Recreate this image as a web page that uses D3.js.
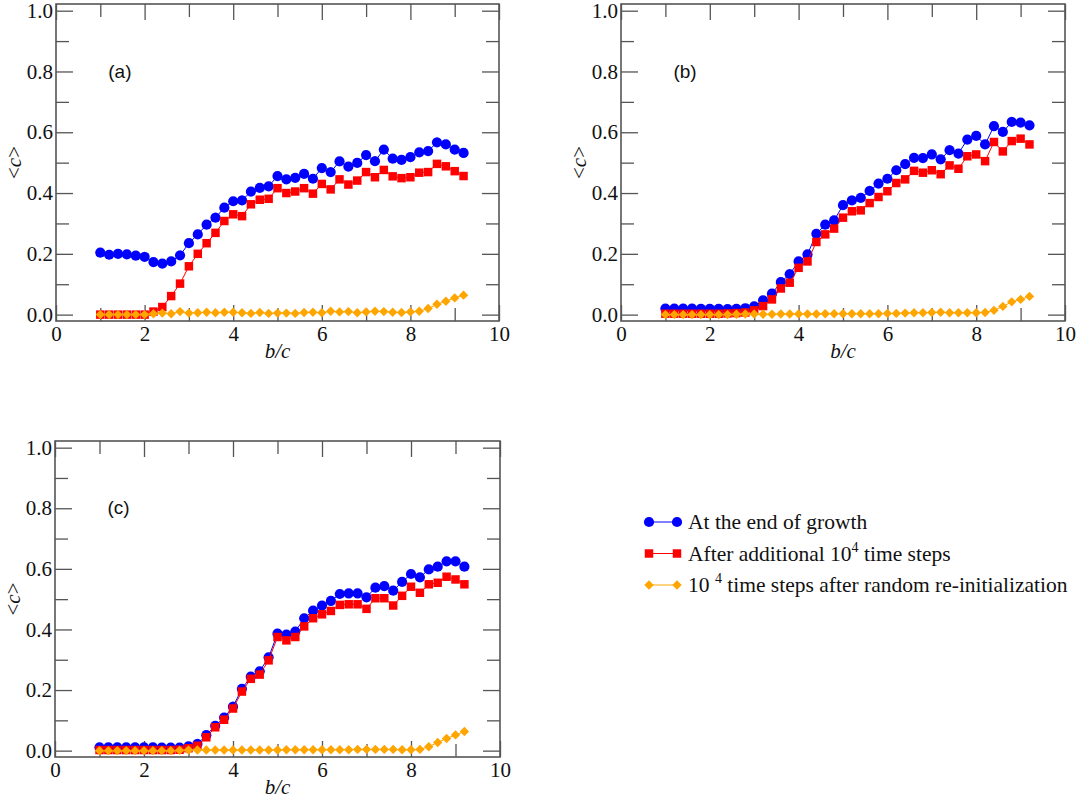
<!DOCTYPE html>
<html lang="en">
<head>
<meta charset="UTF-8">
<title>&lt;c&gt; versus b/c</title>
<style>
    body { margin: 0; background: #fff; }
    .axis path { display: none; }
    .axis line { stroke: #555; stroke-width: 1.3; }
    .frame { fill: none; stroke: #555; stroke-width: 1.6; }
</style>
</head>
<body>
<div id="chart"></div>
<script src="https://d3js.org/d3.v7.min.js"></script>
<script>
var width = 1080, height = 806;
var serif = '"Liberation Serif", "Times New Roman", Times, serif';
var sans = '"Liberation Sans", Arial, sans-serif';

// b/c values shared by every series
var bc = [1.0, 1.2, 1.4, 1.6, 1.8, 2.0, 2.2, 2.4, 2.6, 2.8,
          3.0, 3.2, 3.4, 3.6, 3.8, 4.0, 4.2, 4.4, 4.6, 4.8,
          5.0, 5.2, 5.4, 5.6, 5.8, 6.0, 6.2, 6.4, 6.6, 6.8,
          7.0, 7.2, 7.4, 7.6, 7.8, 8.0, 8.2, 8.4, 8.6, 8.8,
          9.0, 9.2];

// panel (a)
var growthA = [0.204, 0.197, 0.200, 0.198, 0.194, 0.190, 0.173, 0.168, 0.175, 0.195,
               0.235, 0.264, 0.296, 0.319, 0.352, 0.373, 0.376, 0.405, 0.417, 0.422,
               0.456, 0.445, 0.450, 0.463, 0.447, 0.482, 0.469, 0.504, 0.487, 0.499,
               0.525, 0.505, 0.543, 0.513, 0.509, 0.518, 0.534, 0.538, 0.567, 0.560,
               0.543, 0.532];
var afterA = [0.000, 0.000, 0.000, 0.000, 0.000, 0.000, 0.010, 0.025, 0.061, 0.102,
              0.159, 0.200, 0.235, 0.269, 0.308, 0.330, 0.324, 0.363, 0.378, 0.381,
              0.416, 0.400, 0.405, 0.416, 0.398, 0.430, 0.412, 0.445, 0.428, 0.441,
              0.469, 0.452, 0.476, 0.455, 0.449, 0.452, 0.467, 0.469, 0.496, 0.488,
              0.472, 0.456];
var reinitA = [0.000, 0.000, 0.000, 0.000, 0.000, 0.000, 0.003, 0.005, 0.003, 0.010,
               0.005, 0.006, 0.008, 0.006, 0.008, 0.008, 0.006, 0.004, 0.007, 0.004,
               0.005, 0.005, 0.004, 0.007, 0.008, 0.006, 0.011, 0.009, 0.010, 0.006,
               0.009, 0.011, 0.010, 0.008, 0.007, 0.009, 0.011, 0.020, 0.034, 0.044,
               0.055, 0.064];

// panel (b)
var growthB = [0.020, 0.020, 0.020, 0.020, 0.019, 0.019, 0.019, 0.018, 0.019, 0.021,
               0.027, 0.047, 0.069, 0.107, 0.133, 0.175, 0.198, 0.266, 0.296, 0.310,
               0.360, 0.376, 0.384, 0.407, 0.431, 0.447, 0.475, 0.495, 0.516, 0.515,
               0.527, 0.511, 0.541, 0.530, 0.576, 0.588, 0.560, 0.620, 0.601, 0.634,
               0.632, 0.623];
var afterB = [0.003, 0.003, 0.003, 0.003, 0.003, 0.003, 0.003, 0.004, 0.005, 0.007,
              0.014, 0.028, 0.050, 0.086, 0.105, 0.154, 0.175, 0.239, 0.264, 0.283,
              0.319, 0.340, 0.343, 0.367, 0.387, 0.406, 0.433, 0.445, 0.473, 0.467,
              0.475, 0.462, 0.491, 0.480, 0.521, 0.527, 0.505, 0.568, 0.537, 0.571,
              0.579, 0.560];
var reinitB = [0.000, 0.000, 0.000, 0.000, 0.000, 0.000, 0.000, 0.000, 0.001, 0.002,
               0.002, 0.001, 0.001, 0.002, 0.002, 0.002, 0.002, 0.002, 0.003, 0.003,
               0.003, 0.003, 0.003, 0.003, 0.003, 0.004, 0.004, 0.005, 0.006, 0.006,
               0.007, 0.008, 0.006, 0.006, 0.006, 0.006, 0.007, 0.014, 0.027, 0.042,
               0.050, 0.060];

// panel (c)
var growthC = [0.011, 0.011, 0.011, 0.011, 0.011, 0.011, 0.011, 0.010, 0.010, 0.010,
               0.014, 0.022, 0.051, 0.082, 0.109, 0.145, 0.204, 0.244, 0.262, 0.308,
               0.386, 0.383, 0.393, 0.437, 0.462, 0.479, 0.494, 0.517, 0.519, 0.519,
               0.506, 0.538, 0.543, 0.528, 0.557, 0.583, 0.572, 0.598, 0.607, 0.625,
               0.625, 0.607];
var afterC = [0.002, 0.002, 0.002, 0.002, 0.002, 0.002, 0.002, 0.002, 0.002, 0.003,
              0.008, 0.016, 0.044, 0.077, 0.102, 0.139, 0.195, 0.237, 0.251, 0.298,
              0.375, 0.364, 0.375, 0.410, 0.437, 0.450, 0.461, 0.481, 0.483, 0.483,
              0.468, 0.503, 0.503, 0.479, 0.511, 0.541, 0.521, 0.549, 0.554, 0.574,
              0.565, 0.549];
var reinitC = [0.000, 0.000, 0.000, 0.000, 0.000, 0.000, 0.000, 0.000, 0.000, 0.001,
               0.002, 0.002, 0.002, 0.002, 0.002, 0.002, 0.002, 0.002, 0.002, 0.002,
               0.002, 0.003, 0.003, 0.003, 0.003, 0.003, 0.003, 0.003, 0.003, 0.004,
               0.004, 0.004, 0.004, 0.004, 0.003, 0.003, 0.004, 0.013, 0.027, 0.040,
               0.052, 0.063];

// ticks
var xTicks = [0, 2, 4, 6, 8, 10];
var xMinorTicks = [1, 3, 5, 7, 9];
var yTicks = [0, 0.2, 0.4, 0.6, 0.8, 1.0];
var yMinorTicks = [0.1, 0.3, 0.5, 0.7, 0.9];

var panelNames = ['(a)', '(b)', '(c)'];
var seriesNames = ['growth', 'after', 'reinit'];
// legend text: [before superscript, superscript, after superscript]
var legendTexts = [
    ['At the end of growth', '', ''],
    ['After additional 10', '4', ' time steps'],
    ['10 ', '4', ' time steps after random re-initialization']
];

var colors = { growth: '#0000ff', after: '#ff0000', reinit: '#ffa500' };
var shapes = { growth: d3.symbolCircle, after: d3.symbolSquare, reinit: d3.symbolSquare };
var shapeSize = { growth: 82, after: 72, reinit: 44 };
var shapeRotate = { growth: 0, after: 0, reinit: 45 };

var panels = [
    { name: panelNames[0], left: 56, top: 4, w: 443, h: 317, data: { growth: growthA, after: afterA, reinit: reinitA } },
    { name: panelNames[1], left: 621, top: 4, w: 444, h: 317, data: { growth: growthB, after: afterB, reinit: reinitB } },
    { name: panelNames[2], left: 55, top: 441, w: 445, h: 316, data: { growth: growthC, after: afterC, reinit: reinitC } }
];

var svg = d3.select('#chart').append('svg')
    .attr('width', width)
    .attr('height', height);

function styleTicks(sel) {
    sel.selectAll('text')
        .style('font-family', serif)
        .style('font-size', '21px')
        .style('fill', '#111');
}

panels.forEach(function(p) {
    var g = svg.append('g')
        .attr('transform', 'translate(' + p.left + ',' + p.top + ')');

    var x = d3.scaleLinear().domain([0, 10]).range([0, p.w]);
    var y = d3.scaleLinear().domain([-0.021, 1.022]).range([p.h, 0]);

    // major/minor ticks, pointing inward, on all four sides
    g.append('g').attr('class', 'axis')
        .attr('transform', 'translate(0,' + p.h + ')')
        .call(d3.axisBottom(x).tickValues(xTicks).tickSize(-16).tickPadding(5).tickFormat(d3.format('d')))
        .call(styleTicks);
    g.append('g').attr('class', 'axis')
        .attr('transform', 'translate(0,' + p.h + ')')
        .call(d3.axisBottom(x).tickValues(xMinorTicks).tickSize(-13).tickFormat(''));
    g.append('g').attr('class', 'axis')
        .call(d3.axisTop(x).tickValues(xTicks).tickSize(-16).tickFormat(''));
    g.append('g').attr('class', 'axis')
        .call(d3.axisTop(x).tickValues(xMinorTicks).tickSize(-13).tickFormat(''));

    g.append('g').attr('class', 'axis')
        .call(d3.axisLeft(y).tickValues(yTicks).tickSize(-17).tickPadding(3).tickFormat(d3.format('.1f')))
        .call(styleTicks);
    g.append('g').attr('class', 'axis')
        .call(d3.axisLeft(y).tickValues(yMinorTicks).tickSize(-13).tickFormat(''));
    g.append('g').attr('class', 'axis')
        .attr('transform', 'translate(' + p.w + ',0)')
        .call(d3.axisRight(y).tickValues(yTicks).tickSize(-17).tickFormat(''));
    g.append('g').attr('class', 'axis')
        .attr('transform', 'translate(' + p.w + ',0)')
        .call(d3.axisRight(y).tickValues(yMinorTicks).tickSize(-13).tickFormat(''));

    g.append('rect')
        .attr('class', 'frame')
        .attr('width', p.w)
        .attr('height', p.h);

    // axis titles
    g.append('text')
        .attr('x', p.w / 2)
        .attr('y', p.h + 37)
        .attr('text-anchor', 'middle')
        .style('font-family', serif)
        .style('font-size', '21px')
        .style('font-style', 'italic')
        .style('fill', '#111')
        .text('b/c');

    var yl = g.append('text')
        .attr('transform', 'translate(' + (-35) + ',' + (p.h / 2) + ') rotate(-90)')
        .attr('text-anchor', 'middle')
        .style('font-family', serif)
        .style('font-size', '21px')
        .style('fill', '#111');
    yl.append('tspan').text('<');
    yl.append('tspan').style('font-style', 'italic').text('c');
    yl.append('tspan').text('>');

    g.append('text')
        .attr('x', x(1.18))
        .attr('y', y(0.78))
        .style('font-family', sans)
        .style('font-size', '19px')
        .style('fill', '#111')
        .text(p.name);

    // series: line then markers
    seriesNames.forEach(function(s) {
        var vals = p.data[s];
        var line = d3.line()
            .x(function(d, i) { return x(bc[i]); })
            .y(function(d) { return y(d); });
        g.append('path')
            .attr('d', line(vals))
            .attr('fill', 'none')
            .attr('stroke', colors[s])
            .attr('stroke-width', 1);
        g.append('g').selectAll('path')
            .data(vals)
            .enter()
            .append('path')
            .attr('transform', function(d, i) {
                return 'translate(' + x(bc[i]) + ',' + y(d) + ') rotate(' + shapeRotate[s] + ')';
            })
            .attr('d', d3.symbol().type(shapes[s]).size(shapeSize[s]))
            .attr('fill', colors[s]);
    });
});

// legend
var legend = svg.append('g')
    .attr('transform', 'translate(649,522)');
seriesNames.forEach(function(s, i) {
    var row = legend.append('g').attr('transform', 'translate(0,' + (i * 31.5) + ')');
    row.append('line')
        .attr('x1', 0).attr('x2', 28)
        .attr('stroke', colors[s])
        .attr('stroke-width', 1);
    row.selectAll('path')
        .data([0, 28])
        .enter()
        .append('path')
        .attr('transform', function(d) { return 'translate(' + d + ',0) rotate(' + shapeRotate[s] + ')'; })
        .attr('d', d3.symbol().type(shapes[s]).size(shapeSize[s]))
        .attr('fill', colors[s]);
    var t = row.append('text')
        .attr('x', 39)
        .attr('y', 7)
        .style('font-family', serif)
        .style('font-size', '21.5px')
        .style('fill', '#111');
    t.append('tspan').text(legendTexts[i][0]);
    if (legendTexts[i][1]) {
        t.append('tspan')
            .attr('dy', -9)
            .style('font-size', '14px')
            .text(legendTexts[i][1]);
        t.append('tspan')
            .attr('dy', 9)
            .text(legendTexts[i][2]);
    }
});
</script>
</body>
</html>
